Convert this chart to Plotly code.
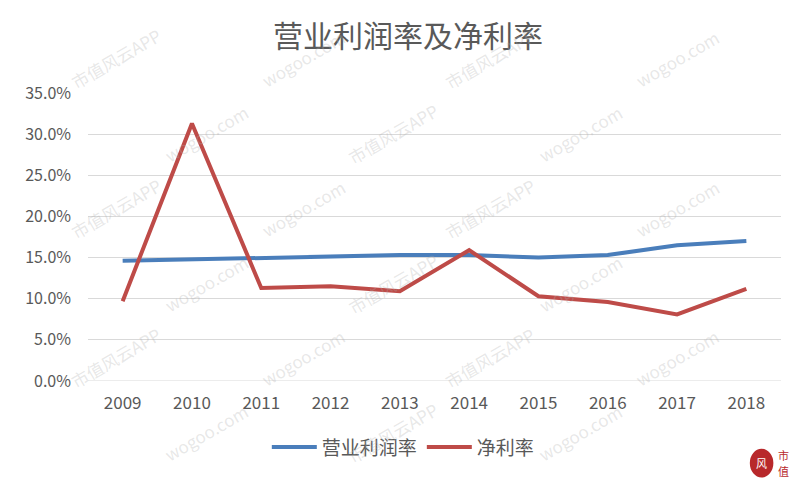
import plotly.graph_objects as go

years = ["2009", "2010", "2011", "2012", "2013", "2014", "2015", "2016", "2017", "2018"]
operating_margin = [0.146, 0.148, 0.150, 0.152, 0.153, 0.153, 0.150, 0.153, 0.165, 0.170]
net_margin = [0.097, 0.313, 0.113, 0.115, 0.109, 0.159, 0.103, 0.096, 0.081, 0.112]
series_names = ["营业利润率", "净利率"]
title_text = "营业利润率及净利率"
watermarks = ["市值风云APP", "wogoo.com"]
logo_chars = ["市", "值"]

font_family = "Noto Sans CJK SC, Microsoft YaHei, sans-serif"
grey = "#595959"

fig = go.Figure()
fig.add_trace(go.Scatter(x=years, y=operating_margin, mode="lines", name=series_names[0],
                         line=dict(color="#4A7EBB", width=4)))
fig.add_trace(go.Scatter(x=years, y=net_margin, mode="lines", name=series_names[1],
                         line=dict(color="#BE4B48", width=4)))

annotations = []
# faint diagonal watermark pattern, kept inside the canvas
rows_y = [1.12, 0.86, 0.60, 0.34, 0.08, -0.18]
for r, y in enumerate(rows_y):
    xs = [0.04, 0.31, 0.58, 0.85] if r % 2 == 0 else [0.17, 0.44, 0.71]
    for c, x in enumerate(xs):
        txt = watermarks[(r + c) % 2]
        annotations.append(dict(text=txt, x=x, y=y, xref="paper", yref="paper",
                                xanchor="center", yanchor="middle",
                                showarrow=False, textangle=-30,
                                font=dict(family=font_family, size=17, color="rgba(175,175,175,0.3)")))

# small logo at bottom right
annotations.append(dict(text="风", x=0.972, y=-0.285, xref="paper", yref="paper",
                        xanchor="center", yanchor="middle", showarrow=False,
                        font=dict(family=font_family, size=11, color="white")))
for ch, yy in zip(logo_chars, [-0.256, -0.314]):
    annotations.append(dict(text=ch, x=1.003, y=yy, xref="paper", yref="paper",
                            xanchor="center", yanchor="middle", showarrow=False,
                            borderpad=0,
                            font=dict(family=font_family, size=11, color="#B8282B")))

fig.update_layout(
    width=800, height=478,
    paper_bgcolor="white", plot_bgcolor="white",
    margin=dict(l=80, r=27, t=85, b=105),
    title=dict(text=title_text, x=0.5, xanchor="center", y=0.94, yanchor="middle",
               font=dict(family=font_family, size=30, color=grey)),
    font=dict(family=font_family, color=grey),
    xaxis=dict(type="category", showgrid=False, showline=False, zeroline=False,
               ticks="", ticklabelstandoff=10,
               tickfont=dict(size=17, color=grey), range=[-0.5, 9.5]),
    yaxis=dict(range=[0, 0.35], dtick=0.05, tickformat=".1%", showgrid=True,
               gridcolor="#D9D9D9", gridwidth=1, zeroline=False, showline=False,
               ticks="", ticklabelstandoff=16,
               tickfont=dict(size=16, color=grey)),
    legend=dict(orientation="h", x=0.455, xanchor="center", y=-0.23, yanchor="middle",
                font=dict(size=19, color=grey, family=font_family),
                itemwidth=45, traceorder="normal"),
    annotations=annotations,
    shapes=[dict(type="line", xref="paper", yref="y", x0=0, x1=1, y0=0, y1=0,
                 line=dict(color="#D9D9D9", width=1), layer="below"),
            dict(type="circle", xref="paper", yref="paper",
                 x0=0.955, x1=0.989, y0=-0.335, y1=-0.235,
                 fillcolor="#B8282B", line=dict(width=0), layer="below")],
)

fig.write_html("out.html")
